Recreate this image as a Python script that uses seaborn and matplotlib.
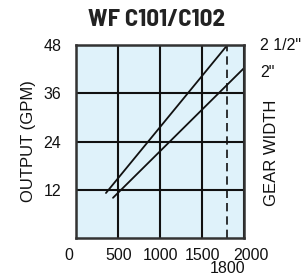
import matplotlib
matplotlib.use("Agg")
import matplotlib.pyplot as plt
import matplotlib.transforms as mtransforms
import seaborn as sns
import pandas as pd

sns.set_theme(style="white")
plt.rcParams['font.family'] = ['Liberation Sans', 'DejaVu Sans']

title = "WF C101/C102"
series_names = ['2 1/2"', '2"']
rpm_25 = [352, 1800]
gpm_25 = [11.2, 48]
rpm_20 = [436, 2000]
gpm_20 = [10.0, 42.3]
x_ticks = [0, 500, 1000, 1500, 2000]
y_ticks = [12, 24, 36, 48]
marker_rpm = 1800

df = pd.DataFrame({
    "rpm": rpm_25 + rpm_20,
    "gpm": gpm_25 + gpm_20,
    "width": [series_names[0]] * 2 + [series_names[1]] * 2,
})

fig = plt.figure(figsize=(3.01, 2.80), dpi=100)
ax = fig.add_axes([0.254, 0.15, 0.557, 0.689])
ax.set_facecolor("#dff2fa")

sns.lineplot(data=df, x="rpm", y="gpm", hue="width",
             palette=["#111111", "#111111"], legend=False, ax=ax, linewidth=1.3)

ax.axvline(marker_rpm, color="#111111", linestyle=(0, (5, 3)), linewidth=1.2)

ax.set_xlim(0, 2000)
ax.set_ylim(0, 48)
ax.set_xticks(x_ticks)
ax.set_yticks(y_ticks)
ax.grid(True, color="#111111", linewidth=1.5)
ax.set_axisbelow(True)
for s in ax.spines.values():
    s.set_color("#333333")
    s.set_linewidth(1.8)
ax.tick_params(axis="x", length=0, labelsize=11.5, colors="#111111", pad=7)
ax.tick_params(axis="y", length=0, labelsize=11.5, colors="#111111", pad=11)
xl = ax.get_xticklabels()
xl[0].set_transform(xl[0].get_transform() + mtransforms.ScaledTranslation(-8 / 100, 0, fig.dpi_scale_trans))
xl[-1].set_transform(xl[-1].get_transform() + mtransforms.ScaledTranslation(7 / 100, 0, fig.dpi_scale_trans))
ax.set_xlabel("")
ax.set_ylabel("OUTPUT (GPM)", fontsize=12, color="#111111", labelpad=5)

ax.text(1.095, 48, series_names[0], transform=ax.get_yaxis_transform(),
        fontsize=11.5, va="center", ha="left", color="#111111")
ax.text(1.095, 41.3, series_names[1], transform=ax.get_yaxis_transform(),
        fontsize=11.5, va="center", ha="left", color="#111111")
fig.text(0.903, 0.455, "GEAR WIDTH", rotation=90, fontsize=12,
         va="center", ha="center", color="#111111")
ax.text(marker_rpm, -0.16, str(marker_rpm), transform=ax.get_xaxis_transform(),
        fontsize=11.5, ha="center", va="center", color="#111111")

fig.text(0.52, 0.93, title, fontsize=18, fontweight="bold", ha="center",
         va="center", color="#222222",
         family=['Barlow Semi Condensed', 'DejaVu Sans'])

fig.savefig("out.png", dpi=100)
